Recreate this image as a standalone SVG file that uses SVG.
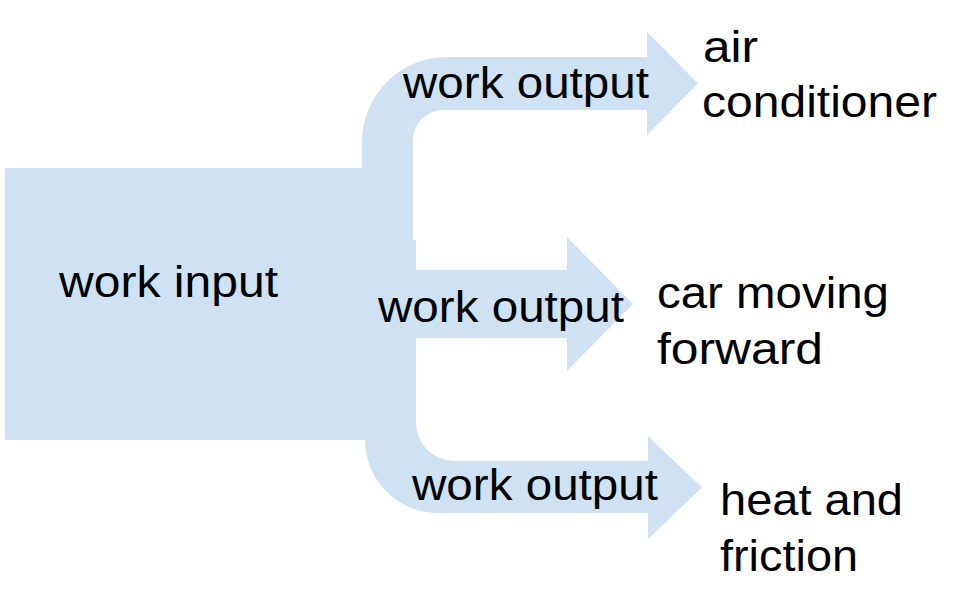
<svg xmlns="http://www.w3.org/2000/svg" width="966" height="590" viewBox="0 0 966 590">
<style>
.flow{fill:#cfe2f3;stroke:none}
.t{font-family:"Liberation Sans",Arial,sans-serif;font-size:44px;fill:#000}
</style>
<rect width="966" height="590" fill="#fff"/>
<g id="work-input">
<path class="flow" d="M5,168 L413,168 L413,240 L416,240 L416,440 L5,440 Z"/>
<text class="t" x="59" y="297" textLength="219" lengthAdjust="spacingAndGlyphs">work input</text>
</g>
<g id="connectors">
<g id="arrow-air">
<path class="flow" d="M362,175 L362,142 A85,85 0 0 1 447,57 L647,57 L647,32 L698,83.5 L647,135 L647,110 L443,110 A30,30 0 0 0 413,140 L413,175 Z"/>
<text class="t" x="403" y="98" textLength="246" lengthAdjust="spacingAndGlyphs">work output</text>
</g>
<g id="arrow-car">
<path class="flow" d="M410,270 L567,270 L567,237 L633,304 L567,371 L567,338 L410,338 Z"/>
<text class="t" x="378" y="322" textLength="246" lengthAdjust="spacingAndGlyphs">work output</text>
</g>
<g id="arrow-heat">
<path class="flow" d="M365,430 L365,440 A73,73 0 0 0 438,513 L648,513 L648,539 L702,487.5 L648,436 L648,461 L454,461 A38,38 0 0 1 416,423 L416,430 Z"/>
<text class="t" x="412" y="500" textLength="246" lengthAdjust="spacingAndGlyphs">work output</text>
</g>
</g>
<g id="air-conditioner">
<text class="t" x="703" y="62" textLength="55" lengthAdjust="spacingAndGlyphs">air</text>
<text class="t" x="702" y="117" textLength="235" lengthAdjust="spacingAndGlyphs">conditioner</text>
</g>
<g id="car-moving-forward">
<text class="t" x="657" y="308" textLength="232" lengthAdjust="spacingAndGlyphs">car moving</text>
<text class="t" x="657" y="364" textLength="166" lengthAdjust="spacingAndGlyphs">forward</text>
</g>
<g id="heat-and-friction">
<text class="t" x="720" y="515" textLength="183" lengthAdjust="spacingAndGlyphs">heat and</text>
<text class="t" x="720" y="571" textLength="138" lengthAdjust="spacingAndGlyphs">friction</text>
</g>
</svg>
